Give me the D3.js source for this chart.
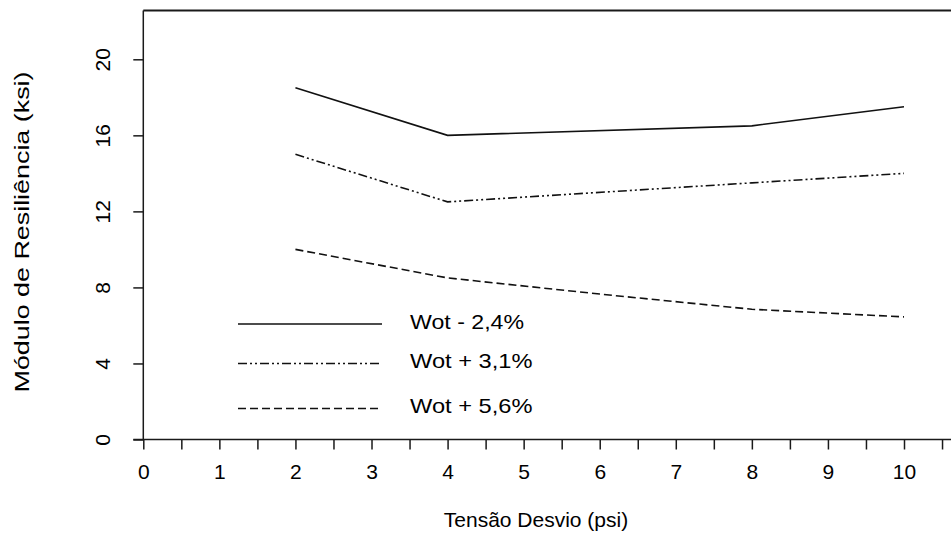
<!DOCTYPE html>
<html>
<head>
<meta charset="utf-8">
<script src="https://cdn.jsdelivr.net/npm/d3@7"></script>
<style>
  html, body { margin: 0; padding: 0; background: #fff; }
  #chart-container { width: 951px; height: 540px; overflow: hidden; }
  text { font-family: "Liberation Sans", Arial, sans-serif; fill: #000; }
</style>
</head>
<body>
<div id="chart-container"></div>
<script>
// ==============================
// DATA
// ==============================

// Tensão desvio (psi) for each measured point
const tensaoSolid = [2, 4, 8, 10];
const tensaoDashDot = [2, 4, 8, 10];
const tensaoDashed = [2, 4, 6, 8, 10];

// Módulo de resiliência (ksi) for each curve
const moduloWotMenos24 = [18.5, 16.0, 16.5, 17.5];
const moduloWotMais31 = [15.0, 12.5, 13.5, 14.0];
const moduloWotMais56 = [10.0, 8.5, 7.65, 6.85, 6.45];

const seriesNames = ["Wot - 2,4%", "Wot + 3,1%", "Wot + 5,6%"];

// Axis ticks
const xTickLabels = [0, 1, 2, 3, 4, 5, 6, 7, 8, 9, 10];
const xMinorTicks = [0.5, 1.5, 2.5, 3.5, 4.5, 5.5, 6.5, 7.5, 8.5, 9.5, 10.5];
const yTickLabels = [0, 4, 8, 12, 16, 20];

// ==============================
// SVG SETUP & SCALES
// ==============================

const width = 951;
const height = 540;

const svg = d3.select("#chart-container")
  .append("svg")
  .attr("width", width)
  .attr("height", height);

const x = d3.scaleLinear()
  .domain([0, 10])
  .range([143.3, 904]);

const y = d3.scaleLinear()
  .domain([0, 20])
  .range([439.5, 59.3]);

const xMax = 10.8;   // plot frame runs past the right edge of the picture
const yMax = 22.57;

// ==============================
// FRAME (left axis + top border)
// ==============================

svg.append("line")
  .attr("x1", x(0)).attr("x2", x(xMax))
  .attr("y1", y(yMax)).attr("y2", y(yMax))
  .attr("stroke", "#1a1a1a")
  .attr("stroke-width", 2);

svg.append("line")
  .attr("x1", x(0)).attr("x2", x(0))
  .attr("y1", y(yMax)).attr("y2", y(0))
  .attr("stroke", "#1a1a1a")
  .attr("stroke-width", 1.5);

// ==============================
// AXES
// ==============================

// Bottom axis: line + ticks every 0.5, labels at integers
const xAxis = d3.axisBottom(x)
  .tickValues(xTickLabels.concat(xMinorTicks))
  .tickSize(10)
  .tickSizeOuter(0)
  .tickFormat(d => Number.isInteger(d) ? d : "");

const xAxisG = svg.append("g")
  .attr("transform", `translate(0, ${y(0)})`)
  .call(xAxis);

xAxisG.select(".domain").remove();
xAxisG.selectAll(".tick line")
  .attr("stroke", "#1a1a1a")
  .attr("stroke-width", 1.5);
xAxisG.selectAll(".tick text")
  .attr("y", 39)
  .attr("dy", 0)
  .attr("font-size", 21);

// axis baseline from the y=0 tick to the right edge
svg.append("line")
  .attr("x1", x(0) - 10).attr("x2", x(xMax))
  .attr("y1", y(0)).attr("y2", y(0))
  .attr("stroke", "#1a1a1a")
  .attr("stroke-width", 1.5);

// Left axis: ticks outward, rotated labels
const yAxis = d3.axisLeft(y)
  .tickValues(yTickLabels)
  .tickSize(10)
  .tickSizeOuter(0);

const yAxisG = svg.append("g")
  .attr("transform", `translate(${x(0)}, 0)`)
  .call(yAxis);

yAxisG.select(".domain").remove();
yAxisG.selectAll(".tick line")
  .attr("stroke", "#1a1a1a")
  .attr("stroke-width", 1.5);
yAxisG.selectAll(".tick text")
  .attr("x", null)
  .attr("dy", null)
  .attr("text-anchor", "middle")
  .attr("font-size", 21)
  .attr("transform", "translate(-33, 0) rotate(-90)");

// Axis titles
svg.append("text")
  .attr("x", 536)
  .attr("y", 527)
  .attr("text-anchor", "middle")
  .attr("font-size", 21)
  .text("Tensão Desvio (psi)");

svg.append("text")
  .attr("transform", "translate(29, 232) rotate(-90)")
  .attr("text-anchor", "middle")
  .attr("font-size", 21)
  .attr("textLength", 321)
  .attr("lengthAdjust", "spacingAndGlyphs")
  .text("Módulo de Resiliência (ksi)");

// ==============================
// LINES
// ==============================

const dashStyles = [null, "9,3,2,3,2,3", "8,4"];

const series = [
  { xs: tensaoSolid, ys: moduloWotMenos24 },
  { xs: tensaoDashDot, ys: moduloWotMais31 },
  { xs: tensaoDashed, ys: moduloWotMais56 }
];

const line = d3.line()
  .x(d => x(d[0]))
  .y(d => y(d[1]));

series.forEach((s, i) => {
  const pts = s.xs.map((v, j) => [v, s.ys[j]]);
  svg.append("path")
    .datum(pts)
    .attr("d", line)
    .attr("fill", "none")
    .attr("stroke", "#111")
    .attr("stroke-width", 1.6)
    .attr("stroke-dasharray", dashStyles[i]);
});

// ==============================
// LEGEND
// ==============================

const legendRows = [324, 363.5, 408.5];
const legendTextLen = [114, 122.5, 122.5];

seriesNames.forEach((name, i) => {
  svg.append("line")
    .attr("x1", 238).attr("x2", 382)
    .attr("y1", legendRows[i]).attr("y2", legendRows[i])
    .attr("stroke", "#111")
    .attr("stroke-width", 1.6)
    .attr("stroke-dasharray", dashStyles[i]);

  svg.append("text")
    .attr("x", 410)
    .attr("y", legendRows[i] + 4.5)
    .attr("font-size", 21)
    .attr("textLength", legendTextLen[i])
    .attr("lengthAdjust", "spacingAndGlyphs")
    .text(name);
});
</script>
</body>
</html>
